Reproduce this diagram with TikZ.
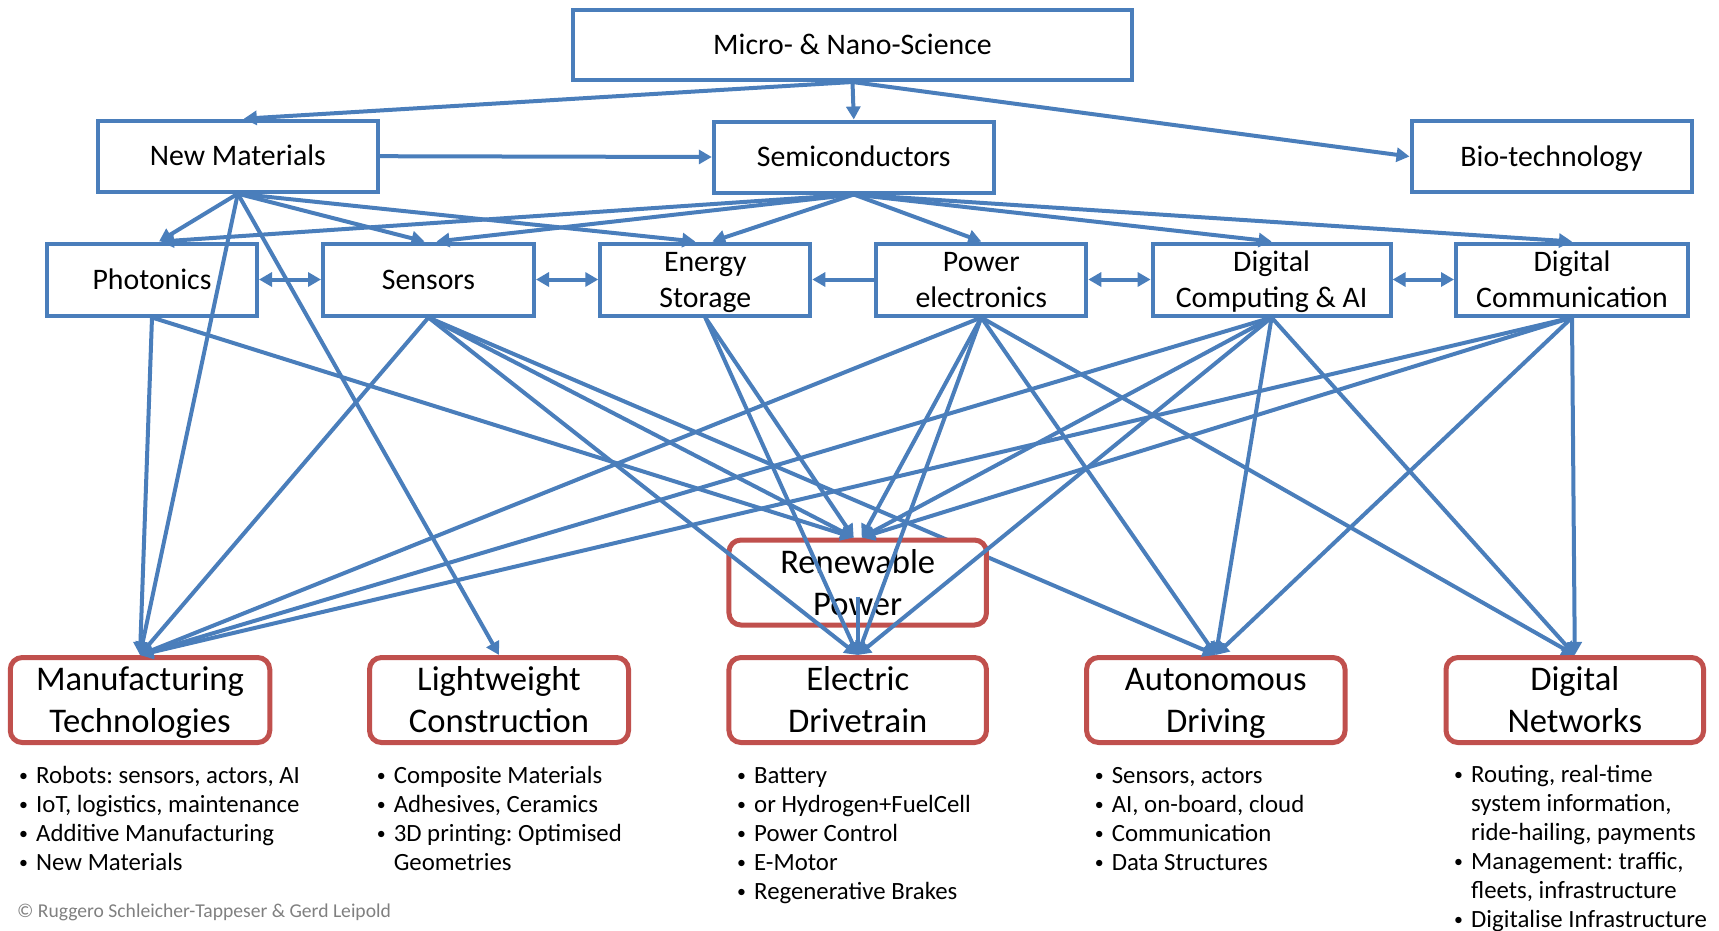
\documentclass[tikz,border=0pt]{standalone}
\usepackage{fontspec}
\usepackage{graphicx}
\setmainfont{Carlito}
\frenchspacing
\usetikzlibrary{arrows.meta,calc}

\definecolor{linkblue}{RGB}{74,126,187}
\definecolor{goalred}{RGB}{192,80,77}
\definecolor{notegray}{RGB}{128,128,128}

% bullet and continuation indent for the item lists
\newcommand{\bul}{\makebox[17pt][l]{\raisebox{2pt}{\scalebox{0.72}{•}}}}
\newcommand{\cont}{\hspace*{17pt}}
% fixed line struts so that labels sit on the same baselines
\newcommand{\techstrut}{\rule[-8pt]{0pt}{35pt}}
\newcommand{\goalstrut}{\rule[-9pt]{0pt}{41pt}}

\begin{document}
\begin{tikzpicture}[x=1pt,y=-1pt,
  >={Triangle[length=13pt,width=14pt]},
  techbox/.style={draw=linkblue, line width=4pt, inner sep=0pt,
    align=center, font=\fontsize{29.8}{36}\selectfont},
  goalbox/.style={draw=goalred, line width=5pt, rounded corners=12pt,
    inner sep=0pt, align=center, font=\fontsize{34.6}{42}\selectfont},
  link/.style={draw=linkblue, line width=4pt, ->},
  dlink/.style={draw=linkblue, line width=4pt, <->},
  itemlist/.style={anchor=base west, inner sep=0pt,
    font=\fontsize{24.8}{29}\selectfont},
  credit/.style={anchor=base west, inner sep=0pt, text=notegray,
    font=\fontsize{19.6}{22}\selectfont}]

\useasboundingbox (0,0) rectangle (1719,930);

% ---- basic sciences and enabling technologies
\node[techbox, minimum width=559pt, minimum height=70pt] (micro) at (852.5,45) {\techstrut Micro- \& Nano-Science};

\node[techbox, minimum width=280pt, minimum height=71pt] (newmat) at (237.8,156.2) {\techstrut New Materials};
\node[techbox, minimum width=280pt, minimum height=71pt] (semi) at (853.8,157) {\techstrut Semiconductors};
\node[techbox, minimum width=280pt, minimum height=71pt] (bio) at (1551.5,156.5) {\techstrut Bio-technology};

\node[techbox, minimum width=210pt, minimum height=72pt] (phot) at (152,279.5) {\techstrut Photonics};
\node[techbox, minimum width=211pt, minimum height=72pt] (sens) at (428.5,279.5) {\techstrut Sensors};
\node[techbox, minimum width=210pt, minimum height=72pt] (stor) at (705.3,279.5) {\techstrut Energy\\\techstrut Storage};
\node[techbox, minimum width=210pt, minimum height=72pt] (pow) at (981.3,279.5) {\techstrut Power\\\techstrut electronics};
\node[techbox, minimum width=238pt, minimum height=72pt] (dcomp) at (1271.6,279.5) {\techstrut Digital\\\techstrut Computing \& AI};
\node[techbox, minimum width=232pt, minimum height=72pt] (dcomm) at (1572,279.5) {\techstrut Digital\\\techstrut Communication};

% ---- application fields
\node[goalbox, minimum width=259.5pt, minimum height=85pt] (manu) at (140,700) {\goalstrut Manufacturing\\\goalstrut Technologies};
\node[goalbox, minimum width=259pt, minimum height=85pt] (light) at (499,700) {\goalstrut Lightweight\\\goalstrut Construction};
\node[goalbox, minimum width=257.5pt, minimum height=85pt] (elec) at (857.7,700) {\goalstrut Electric\\\goalstrut Drivetrain};
\node[goalbox, minimum width=258.5pt, minimum height=85pt] (auto) at (1215.8,700) {\goalstrut Autonomous\\\goalstrut Driving};
\node[goalbox, minimum width=257.6pt, minimum height=85pt] (dnet) at (1574.8,700) {\goalstrut Digital\\\goalstrut Networks};

% this link runs behind the renewable power box
\draw[link] (sens.south) -- (auto.north);

\node[goalbox, fill=white, minimum width=257.5pt, minimum height=85pt] (ren) at (857.7,582.5) {\goalstrut Renewable\\\goalstrut Power};

% ---- links from the sciences
\draw[link] (micro.south) -- ([xshift=6pt]newmat.north);
\draw[link] (micro.south) -- (semi.north);
\draw[link] (micro.south) -- (bio.west);
\draw[link] (newmat.east) -- (semi.west);

\draw[link] (newmat.south) -- ([xshift=7pt]phot.north);
\draw[link] (newmat.south) -- ([xshift=-4pt]sens.north);
\draw[link] (newmat.south) -- ([xshift=-10pt]stor.north);
\draw[link] (newmat.south) -- (manu.north);
\draw[link] (newmat.south) -- (light.north);

\draw[link] (semi.south) -- ([xshift=9pt]phot.north);
\draw[link] (semi.south) -- ([xshift=8pt]sens.north);
\draw[link] (semi.south) -- ([xshift=7pt]stor.north);
\draw[link] (semi.south) -- (pow.north);
\draw[link] (semi.south) -- (dcomp.north);
\draw[link] (semi.south) -- (dcomm.north);

% ---- links between the enabling technologies
\draw[dlink] (phot.east) -- (sens.west);
\draw[dlink] (sens.east) -- (stor.west);
\draw[link] (pow.west) -- (stor.east);
\draw[dlink] (pow.east) -- (dcomp.west);
\draw[dlink] (dcomp.east) -- (dcomm.west);

% ---- links to the application fields
\draw[link] (phot.south) -- (manu.north);
\draw[link] (phot.south) -- ([xshift=-4pt]ren.north);

\draw[link] (sens.south) -- (manu.north);
\draw[link] (sens.south) -- ([xshift=-4pt]ren.north);
\draw[link] (sens.south) -- (elec.north);

\draw[link] (stor.south) -- ([xshift=-4pt]ren.north);
\draw[link] (stor.south) -- (elec.north);

\draw[link] (pow.south) -- (manu.north);
\draw[link] (pow.south) -- ([xshift=4pt]ren.north);
\draw[link] (pow.south) -- (elec.north);
\draw[link] (pow.south) -- (auto.north);
\draw[link] (pow.south) -- (dnet.north);

\draw[link] (dcomp.south) -- (manu.north);
\draw[link] (dcomp.south) -- ([xshift=4pt]ren.north);
\draw[link] (dcomp.south) -- (elec.north);
\draw[link] (dcomp.south) -- (auto.north);
\draw[link] (dcomp.south) -- (dnet.north);

\draw[link] (dcomm.south) -- (manu.north);
\draw[link] (dcomm.south) -- ([xshift=4pt]ren.north);
\draw[link] (dcomm.south) -- (auto.north);
\draw[link] (dcomm.south) -- (dnet.north);

\draw[link] ($(ren.center)+(0,14)$) -- (elec.north);

% ---- item lists under the application fields
\node[itemlist] (lmanu) at (19,783) {\begin{tabular}[t]{@{}l@{}}
\bul Robots: sensors, actors, AI\\
\bul IoT, logistics, maintenance\\
\bul Additive Manufacturing\\
\bul New Materials
\end{tabular}};

\node[itemlist] (llight) at (376.6,783) {\begin{tabular}[t]{@{}l@{}}
\bul Composite Materials\\
\bul Adhesives, Ceramics\\
\bul 3D printing: Optimised\\
\cont Geometries
\end{tabular}};

\node[itemlist] (lelec) at (737,783) {\begin{tabular}[t]{@{}l@{}}
\bul Battery\\
\bul or Hydrogen+FuelCell\\
\bul Power Control\\
\bul E-Motor\\
\bul Regenerative Brakes
\end{tabular}};

\node[itemlist] (lauto) at (1094.6,783) {\begin{tabular}[t]{@{}l@{}}
\bul Sensors, actors\\
\bul AI, on-board, cloud\\
\bul Communication\\
\bul Data Structures
\end{tabular}};

\node[itemlist] (ldnet) at (1454,782) {\begin{tabular}[t]{@{}l@{}}
\bul Routing, real-time\\
\cont system information,\\
\cont ride-hailing, payments\\
\bul Management: traffic,\\
\cont fleets, infrastructure\\
\bul Digitalise Infrastructure
\end{tabular}};

\node[credit] (copy) at (17,917.7) {© Ruggero Schleicher-Tappeser \& Gerd Leipold};

\end{tikzpicture}
\end{document}
